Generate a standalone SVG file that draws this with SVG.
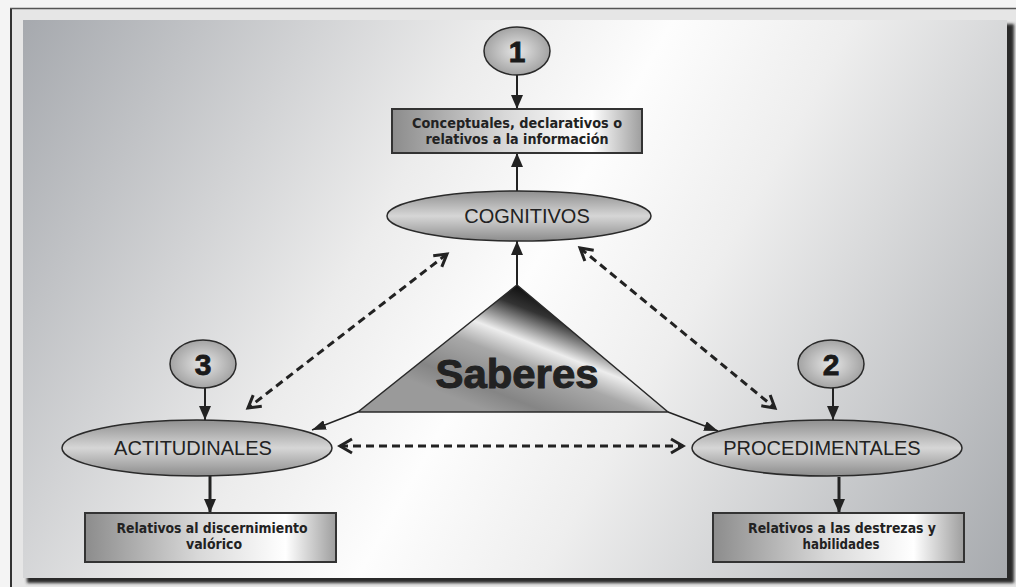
<svg xmlns="http://www.w3.org/2000/svg" width="1016" height="587" viewBox="0 0 1016 587">
<defs>
<linearGradient id="bg" gradientUnits="userSpaceOnUse" x1="23" y1="20" x2="1007" y2="578">
<stop offset="0" stop-color="#a6a9ae"/>
<stop offset="0.36" stop-color="#ececec"/>
<stop offset="0.5" stop-color="#fdfdfd"/>
<stop offset="0.64" stop-color="#eeeeee"/>
<stop offset="1" stop-color="#a7aaae"/>
</linearGradient>
<linearGradient id="ell" x1="0" y1="0" x2="0" y2="1">
<stop offset="0" stop-color="#8f8f8f"/>
<stop offset="0.5" stop-color="#d6d6d6"/>
<stop offset="1" stop-color="#8c8c8c"/>
</linearGradient>
<radialGradient id="circ" cx="0.5" cy="0.5" r="0.6">
<stop offset="0" stop-color="#e6e6e6"/>
<stop offset="1" stop-color="#969696"/>
</radialGradient>
<linearGradient id="box" x1="0" y1="0" x2="1" y2="0">
<stop offset="0" stop-color="#8c8c8c"/>
<stop offset="0.45" stop-color="#d8d8d8"/>
<stop offset="0.8" stop-color="#ffffff"/>
<stop offset="1" stop-color="#9e9e9e"/>
</linearGradient>
<linearGradient id="tri" gradientUnits="userSpaceOnUse" x1="540" y1="285" x2="490" y2="412">
<stop offset="0" stop-color="#000000"/>
<stop offset="0.2" stop-color="#333333"/>
<stop offset="0.42" stop-color="#ededed"/>
<stop offset="0.58" stop-color="#a8a8a8"/>
<stop offset="0.85" stop-color="#858585"/>
<stop offset="1" stop-color="#9a9a9a"/>
</linearGradient>
<filter id="sh" x="-5%" y="-5%" width="110%" height="110%">
<feGaussianBlur stdDeviation="1.5"/>
</filter>
<marker id="arr" markerUnits="userSpaceOnUse" viewBox="0 0 14 12" markerWidth="14" markerHeight="12" refX="14" refY="6" orient="auto">
<path d="M0,0 L14,6 L0,12 z" fill="#222"/>
</marker>
<marker id="arrs" markerUnits="userSpaceOnUse" viewBox="0 0 14 10" markerWidth="14" markerHeight="10" refX="14" refY="5" orient="auto">
<path d="M0,0 L14,5 L0,10 z" fill="#222"/>
</marker>
<marker id="chev" markerUnits="userSpaceOnUse" viewBox="-3 -3 18 20" markerWidth="18" markerHeight="20" refX="12" refY="7" orient="auto-start-reverse">
<path d="M0,0 L12,7 L0,14" fill="none" stroke="#222" stroke-width="3"/>
</marker>
</defs>
<style>
.ell{fill:url(#ell);stroke:#2a2a2a;stroke-width:1.5}
.circ{fill:url(#circ);stroke:#2a2a2a;stroke-width:1.5}
.box{fill:url(#box);stroke:#333;stroke-width:2}
.et{font-family:"Liberation Sans",Arial,sans-serif;font-size:20px;fill:#222;text-anchor:middle}
.num{font-family:"Liberation Sans",Arial,sans-serif;font-size:30px;font-weight:bold;fill:#1a1a1a;stroke:#1a1a1a;stroke-width:0.8;text-anchor:middle}
.bt{font-family:"DejaVu Sans Condensed","DejaVu Sans",sans-serif;font-size:14px;font-weight:bold;fill:#222;text-anchor:middle}
.dash{stroke:#222;stroke-width:3;stroke-dasharray:8 5;fill:none;marker-start:url(#chev);marker-end:url(#chev)}
.solid{stroke:#222;stroke-width:2;fill:none;marker-end:url(#arr)}
.thin{stroke:#222;stroke-width:1.5;fill:none;marker-end:url(#arrs)}
.thick{stroke:#222;stroke-width:3;fill:none;marker-end:url(#arr)}
</style>
<rect x="0" y="0" width="1016" height="587" fill="#f4f4f4"/>
<rect x="11" y="9" width="1005" height="578" fill="#e6e6e6"/>
<line x1="10" y1="8.5" x2="1016" y2="8.5" stroke="#555" stroke-width="1.5"/>
<line x1="11" y1="9" x2="11" y2="587" stroke="#333" stroke-width="2"/>
<rect x="27" y="24" width="987" height="559" fill="#2a2a2a" filter="url(#sh)"/>
<rect x="23" y="20" width="984" height="558" fill="url(#bg)"/>

<g id="connectors">
<line class="solid" x1="517" y1="75" x2="517" y2="109"/>
<line class="solid" x1="517" y1="191" x2="517" y2="153"/>
<line class="solid" x1="517" y1="285" x2="517" y2="241"/>
<line class="solid" x1="205" y1="388" x2="205" y2="420"/>
<line class="solid" x1="833" y1="388" x2="833" y2="420"/>
<line class="thick" x1="210" y1="476" x2="210" y2="513"/>
<line class="thick" x1="839" y1="477" x2="839" y2="513"/>
<line class="thin" x1="358" y1="412" x2="312" y2="430"/>
<line class="thin" x1="668" y1="412" x2="718" y2="431"/>
<line class="dash" x1="447" y1="254" x2="248" y2="408"/>
<line class="dash" x1="580" y1="248" x2="775" y2="408"/>
<line class="dash" x1="340" y1="446" x2="683" y2="446"/>
</g>

<g id="saberes">
<path d="M517,285 L668,412 L358,412 Z" fill="url(#tri)" stroke="#2a2a2a" stroke-width="1.5"/>
<text x="517" y="388" font-family="'Liberation Sans',Arial,sans-serif" font-size="40" font-weight="bold" fill="#222" stroke="#222" stroke-width="1" text-anchor="middle" textLength="163" lengthAdjust="spacingAndGlyphs">Saberes</text>
</g>

<g id="num1">
<ellipse class="circ" cx="517" cy="51" rx="33" ry="24"/>
<text class="num" x="517" y="62">1</text>
</g>
<g id="box1">
<rect class="box" x="392" y="109" width="250" height="44"/>
<text class="bt" x="517" y="128" textLength="210" lengthAdjust="spacingAndGlyphs">Conceptuales, declarativos o</text>
<text class="bt" x="517" y="144" textLength="183" lengthAdjust="spacingAndGlyphs">relativos a la información</text>
</g>
<g id="cognitivos">
<ellipse class="ell" cx="519" cy="216" rx="132" ry="25"/>
<text class="et" x="527" y="223">COGNITIVOS</text>
</g>

<g id="num3">
<ellipse class="circ" cx="203" cy="364" rx="33" ry="24"/>
<text class="num" x="203" y="375">3</text>
</g>
<g id="actitudinales">
<ellipse class="ell" cx="197" cy="448" rx="135" ry="28"/>
<text class="et" x="193" y="455">ACTITUDINALES</text>
</g>
<g id="box3">
<rect class="box" x="85" y="513" width="251" height="49"/>
<text class="bt" x="212" y="533" textLength="191" lengthAdjust="spacingAndGlyphs">Relativos al discernimiento</text>
<text class="bt" x="214" y="549" textLength="56" lengthAdjust="spacingAndGlyphs">valórico</text>
</g>

<g id="num2">
<ellipse class="circ" cx="831" cy="364" rx="33" ry="24"/>
<text class="num" x="831" y="375">2</text>
</g>
<g id="procedimentales">
<ellipse class="ell" cx="827" cy="448" rx="135" ry="28"/>
<text class="et" x="822" y="455">PROCEDIMENTALES</text>
</g>
<g id="box2">
<rect class="box" x="713" y="513" width="251" height="49"/>
<text class="bt" x="842" y="533" textLength="188" lengthAdjust="spacingAndGlyphs">Relativos a las destrezas y</text>
<text class="bt" x="841" y="549" textLength="77" lengthAdjust="spacingAndGlyphs">habilidades</text>
</g>
</svg>
